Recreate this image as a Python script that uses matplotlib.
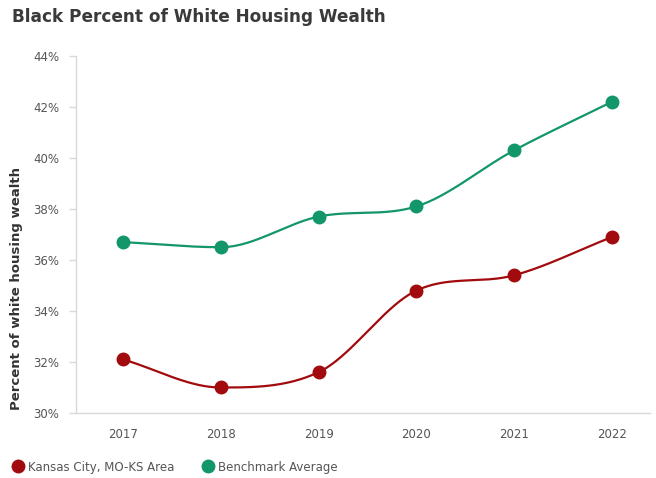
import matplotlib
matplotlib.use("Agg")
import matplotlib.pyplot as plt
from matplotlib.lines import Line2D
import numpy as np

# Data
years = [2017, 2018, 2019, 2020, 2021, 2022]
kansas_city = [32.1, 31.0, 31.6, 34.8, 35.4, 36.9]
benchmark = [36.7, 36.5, 37.7, 38.1, 40.3, 42.2]
y_ticks = [30, 32, 34, 36, 38, 40, 42, 44]

RED = "#A20B0E"
GREEN = "#13966A"
GREY_TEXT = "#555555"
AXIS_GREY = "#D9D9D9"

plt.rcParams["font.family"] = ["DejaVu Sans"]


# Monotone cubic curve through the points (like d3 curveMonotoneX)
def monotone_curve(x, y, n=40):
    x = np.asarray(x, dtype=float)
    y = np.asarray(y, dtype=float)
    h = np.diff(x)
    d = np.diff(y) / h
    m = np.zeros_like(y)
    m[0] = d[0]
    m[-1] = d[-1]
    for i in range(1, len(x) - 1):
        if d[i - 1] * d[i] <= 0:
            m[i] = 0.0
        else:
            m[i] = (h[i - 1] * d[i] + h[i] * d[i - 1]) / (h[i - 1] + h[i])
            m[i] = np.sign(m[i]) * min(abs(m[i]), 3 * min(abs(d[i - 1]), abs(d[i])))
    xs, ys = [], []
    for i in range(len(x) - 1):
        t = np.linspace(0, 1, n)
        h00 = 2 * t**3 - 3 * t**2 + 1
        h10 = t**3 - 2 * t**2 + t
        h01 = -2 * t**3 + 3 * t**2
        h11 = t**3 - t**2
        xs.append(x[i] + t * h[i])
        ys.append(h00 * y[i] + h10 * h[i] * m[i] + h01 * y[i + 1] + h11 * h[i] * m[i + 1])
    return np.concatenate(xs), np.concatenate(ys)


fig = plt.figure(figsize=(6.56, 4.78), dpi=100)
ax = fig.add_axes([0.116, 0.136, 0.875, 0.747])

for values, color in [(benchmark, GREEN), (kansas_city, RED)]:
    cx, cy = monotone_curve(years, values)
    ax.plot(cx, cy, color=color, lw=1.6, zorder=2)
    ax.plot(years, values, "o", color=color, ms=9, zorder=3)

ax.set_xlim(2016.52, 2022.39)
ax.set_ylim(30, 44)
ax.set_xticks(years)
ax.set_yticks(y_ticks)
ax.set_yticklabels([f"{v}%" for v in y_ticks])

for side in ["top", "right"]:
    ax.spines[side].set_visible(False)
for side in ["left", "bottom"]:
    ax.spines[side].set_color(AXIS_GREY)
    ax.spines[side].set_linewidth(1)

ax.tick_params(axis="y", colors=AXIS_GREY, length=5, width=1, pad=7,
               labelcolor=GREY_TEXT, labelsize=8.5)
ax.tick_params(axis="x", length=0, pad=11, labelcolor=GREY_TEXT, labelsize=8.5)

ax.set_ylabel("Percent of white housing wealth", fontsize=9.5, fontweight="bold",
              color="#333333")
ax.yaxis.set_label_coords(-0.093, 0.35)

fig.text(0.018, 0.964, "Black Percent of White Housing Wealth", fontsize=12.2,
         fontweight="bold", color="#3a3a3a", va="center", ha="left")

handles = [
    Line2D([], [], marker="o", ls="none", color=RED, ms=9),
    Line2D([], [], marker="o", ls="none", color=GREEN, ms=9),
]
leg = fig.legend(handles, ["Kansas City, MO-KS Area", "Benchmark Average"],
                 loc="center left", bbox_to_anchor=(0.0, 0.023), ncol=2,
                 frameon=False, fontsize=8.5, handletextpad=0.3,
                 columnspacing=2.2, handlelength=1.2)
for t in leg.get_texts():
    t.set_color(GREY_TEXT)

fig.savefig("out.png", dpi=100)
